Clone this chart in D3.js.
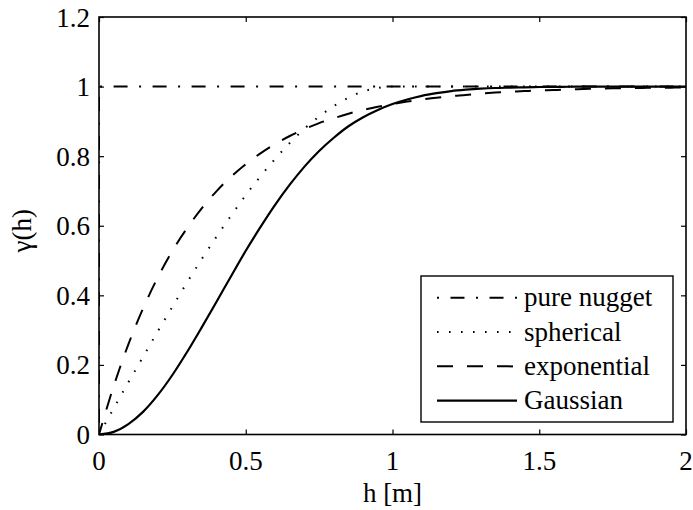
<!DOCTYPE html>
<html>
<head>
<meta charset="utf-8">
<script src="https://cdn.jsdelivr.net/npm/d3@7"></script>
</head>
<body style="margin:0">
<svg id="chart" width="693" height="510" font-family="Liberation Serif"></svg>
<script>
// ---- data ----
const lagH = [0, 0.05, 0.1, 0.15, 0.2, 0.25, 0.3, 0.35, 0.4, 0.45, 0.5, 0.55, 0.6, 0.65, 0.7, 0.75, 0.8, 0.85, 0.9, 0.95, 1.0,
  1.05, 1.1, 1.15, 1.2, 1.25, 1.3, 1.35, 1.4, 1.45, 1.5, 1.55, 1.6, 1.65, 1.7, 1.75, 1.8, 1.85, 1.9, 1.95, 2.0];
const sphericalVals = [0, 0.075, 0.150, 0.223, 0.296, 0.367, 0.437, 0.504, 0.568, 0.629, 0.688, 0.742, 0.792, 0.838, 0.879, 0.914, 0.944, 0.968, 0.986, 0.996, 1.0,
  1, 1, 1, 1, 1, 1, 1, 1, 1, 1, 1, 1, 1, 1, 1, 1, 1, 1, 1, 1];
const exponentialVals = [0, 0.139, 0.259, 0.362, 0.451, 0.528, 0.593, 0.650, 0.699, 0.741, 0.777, 0.808, 0.835, 0.858, 0.878, 0.895, 0.909, 0.922, 0.933, 0.942, 0.950,
  0.957, 0.963, 0.968, 0.973, 0.976, 0.980, 0.983, 0.985, 0.987, 0.989, 0.990, 0.992, 0.993, 0.994, 0.995, 0.9955, 0.996, 0.997, 0.997, 0.9975];
const gaussianVals = [0, 0.0075, 0.030, 0.065, 0.113, 0.171, 0.237, 0.308, 0.381, 0.455, 0.528, 0.596, 0.660, 0.718, 0.770, 0.815, 0.853, 0.886, 0.912, 0.933, 0.950,
  0.963, 0.9735, 0.981, 0.987, 0.991, 0.994, 0.996, 0.997, 0.998, 0.9988, 0.9993, 0.9995, 0.9997, 0.9998, 0.9999, 1, 1, 1, 1, 1];
const nuggetH = [0, 0, 2];
const nuggetVals = [0, 1, 1];

const xTicks = [0, 0.5, 1, 1.5, 2];
const xTickLabels = ["0", "0.5", "1", "1.5", "2"];
const yTicks = [0, 0.2, 0.4, 0.6, 0.8, 1, 1.2];
const yTickLabels = ["0", "0.2", "0.4", "0.6", "0.8", "1", "1.2"];
const seriesNames = ["pure nugget", "spherical", "exponential", "Gaussian"];
const xLabel = "h [m]";
const yLabel = "γ(h)";

// ---- layout ----
const fontNames = ["Liberation Serif"];
const svg = d3.select("#chart");
const L = 99, R = 686, T = 17, B = 434.5;
const x = d3.scaleLinear().domain([0, 2]).range([L, R]);
const y = d3.scaleLinear().domain([0, 1.2]).range([B, T]);
const FS = 27;

function txt(sel) {
  return sel.attr("font-family", fontNames[0]).attr("font-size", FS).attr("fill", "#000");
}

svg.append("defs").append("clipPath").attr("id", "plotclip")
  .append("rect").attr("x", L).attr("y", T).attr("width", R - L).attr("height", B - T);

const styles = [
  { dash: "14,11.5,2,11.5", offset: 27.5, legendOffset: 25.5, width: 2 },
  { dash: "1.6,10.4", offset: 0, legendOffset: 0, width: 2 },
  { dash: "16,14", offset: 4, legendOffset: 0, width: 2 },
  { dash: null, offset: 0, legendOffset: 0, width: 2.2 }
];

const series = [
  nuggetH.map((h, i) => [h, nuggetVals[i]]),
  lagH.map((h, i) => [h, sphericalVals[i]]),
  lagH.map((h, i) => [h, exponentialVals[i]]),
  lagH.map((h, i) => [h, gaussianVals[i]])
];

// ---- texts ----
xTicks.forEach((v, i) => {
  txt(svg.append("text")).attr("x", x(v)).attr("y", B + 35)
    .attr("text-anchor", "middle").text(xTickLabels[i]);
});
yTicks.forEach((v, i) => {
  txt(svg.append("text")).attr("x", L - 9).attr("y", y(v) + 9.5)
    .attr("text-anchor", "end").text(yTickLabels[i]);
});
txt(svg.append("text")).attr("x", (L + R) / 2).attr("y", 502)
  .attr("text-anchor", "middle").text(xLabel);
txt(svg.append("text")).attr("transform", `translate(31,${(T + B) / 2 + 5}) rotate(-90)`)
  .attr("text-anchor", "middle").text(yLabel);

const plot = svg.append("g").attr("clip-path", "url(#plotclip)");
series.forEach((d, i) => {
  const line = d3.line().x(p => x(p[0])).y(p => y(p[1]))
    .curve(i === 0 ? d3.curveLinear : d3.curveMonotoneX);
  const p = plot.append("path").attr("d", line(d))
    .attr("fill", "none").attr("stroke", "#000")
    .attr("stroke-width", styles[i].width);
  if (styles[i].dash) p.attr("stroke-dasharray", styles[i].dash).attr("stroke-dashoffset", styles[i].offset);
});

// ---- axes: inward ticks on all four sides ----
const tickLen = 5;
const axes = [
  [d3.axisBottom(x).tickValues(xTicks), `translate(0,${B})`],
  [d3.axisTop(x).tickValues(xTicks), `translate(0,${T})`],
  [d3.axisLeft(y).tickValues(yTicks), `translate(${L},0)`],
  [d3.axisRight(y).tickValues(yTicks), `translate(${R},0)`]
];
axes.forEach(([ax, tr]) => {
  const g = svg.append("g").attr("transform", tr)
    .call(ax.tickSizeInner(-tickLen).tickSizeOuter(0).tickFormat(""));
  g.attr("font-family", null).attr("font-size", null);
  g.select(".domain").remove();
  g.selectAll(".tick text").remove();
  g.selectAll(".tick line").attr("stroke", "#000").attr("stroke-width", 1.2);
});

svg.append("rect").attr("x", L).attr("y", T).attr("width", R - L).attr("height", B - T)
  .attr("fill", "none").attr("stroke", "#000").attr("stroke-width", 1.6);

// ---- legend ----
const lg = svg.append("g");
lg.append("rect").attr("x", 421).attr("y", 276).attr("width", 252).attr("height", 146)
  .attr("fill", "#fff").attr("stroke", "#000").attr("stroke-width", 1.4);
const rowY = d3.scaleLinear().domain([0, 3]).range([297.7, 400.7]);
seriesNames.forEach((name, i) => {
  const yy = rowY(i);
  const l = lg.append("line").attr("x1", 437).attr("x2", 517).attr("y1", yy).attr("y2", yy)
    .attr("stroke", "#000").attr("stroke-width", styles[i].width);
  if (styles[i].dash) l.attr("stroke-dasharray", styles[i].dash).attr("stroke-dashoffset", styles[i].legendOffset);
  txt(lg.append("text")).attr("x", 524).attr("y", yy + 8.5).text(name);
});
</script>
</body>
</html>
